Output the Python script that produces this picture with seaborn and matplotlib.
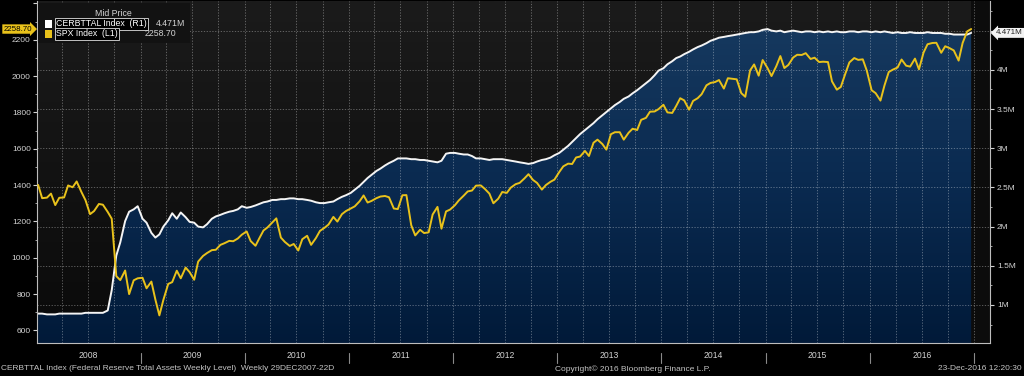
import numpy as np
import pandas as pd
import matplotlib
matplotlib.use("Agg")
import matplotlib.pyplot as plt
import matplotlib.dates as mdates
import matplotlib.ticker as mticker
from matplotlib.patches import PathPatch, Rectangle
from matplotlib.transforms import blended_transform_factory
from matplotlib.colors import LinearSegmentedColormap
import seaborn as sns

# ---------------- data (two readings per month: ~8th and ~22nd) ----------------
months = pd.date_range("2008-01-01", "2016-12-01", freq="MS")
dates = [m + pd.Timedelta(days=d) for m in months for d in (7, 21)]

spx_2008 = [1401, 1328, 1331, 1353, 1290, 1330, 1332, 1398, 1388, 1420, 1361, 1317,
            1240, 1257, 1296, 1292, 1252, 1215, 899, 877, 930, 800, 876, 887]
spx_2009 = [890, 832, 869, 770, 683, 768, 856, 866, 929, 887, 946, 921,
            879, 979, 1010, 1026, 1042, 1044, 1071, 1080, 1093, 1091, 1106, 1127]
spx_2010 = [1145, 1092, 1066, 1109, 1150, 1167, 1194, 1217, 1111, 1087, 1065, 1076,
            1040, 1102, 1121, 1071, 1109, 1148, 1165, 1183, 1225, 1199, 1240, 1257]
spx_2011 = [1271, 1283, 1311, 1343, 1304, 1313, 1328, 1337, 1340, 1333, 1271, 1268,
            1344, 1345, 1179, 1123, 1154, 1136, 1140, 1238, 1280, 1160, 1255, 1265]
spx_2012 = [1289, 1316, 1342, 1365, 1370, 1397, 1398, 1379, 1353, 1300, 1325, 1362,
            1357, 1386, 1405, 1412, 1437, 1460, 1428, 1412, 1375, 1400, 1418, 1430]
spx_2013 = [1472, 1503, 1518, 1516, 1552, 1557, 1588, 1560, 1633, 1650, 1626, 1595,
            1680, 1691, 1691, 1650, 1688, 1710, 1703, 1759, 1770, 1804, 1805, 1818]
spx_2014 = [1842, 1800, 1797, 1836, 1878, 1866, 1815, 1863, 1878, 1900, 1949, 1962,
            1967, 1978, 1931, 1988, 1985, 1982, 1906, 1886, 2031, 2064, 2002, 2088]
spx_2015 = [2044, 2000, 2055, 2110, 2044, 2061, 2102, 2117, 2116, 2126, 2094, 2101,
            2077, 2079, 2077, 1971, 1925, 1940, 2014, 2075, 2099, 2089, 2092, 2030]
spx_2016 = [1922, 1906, 1865, 1948, 2022, 2035, 2047, 2091, 2057, 2052, 2096, 2037,
            2129, 2175, 2182, 2183, 2128, 2164, 2153, 2141, 2085, 2182, 2246, 2258.70]

fed_2008 = [0.89, 0.89, 0.88, 0.88, 0.88, 0.89, 0.89, 0.89, 0.89, 0.89, 0.89, 0.90,
            0.90, 0.90, 0.90, 0.90, 0.93, 1.19, 1.63, 1.80, 2.07, 2.19, 2.22, 2.26]
fed_2009 = [2.10, 2.05, 1.92, 1.86, 1.90, 2.00, 2.08, 2.17, 2.10, 2.18, 2.12, 2.06,
            2.05, 2.00, 1.99, 2.03, 2.10, 2.13, 2.15, 2.17, 2.19, 2.20, 2.22, 2.26]
fed_2010 = [2.24, 2.25, 2.27, 2.29, 2.31, 2.32, 2.34, 2.34, 2.35, 2.35, 2.36, 2.36,
            2.35, 2.35, 2.34, 2.33, 2.31, 2.30, 2.30, 2.31, 2.32, 2.35, 2.38, 2.40]
fed_2011 = [2.43, 2.47, 2.52, 2.57, 2.62, 2.66, 2.71, 2.74, 2.78, 2.81, 2.84, 2.87,
            2.87, 2.87, 2.86, 2.86, 2.85, 2.85, 2.84, 2.83, 2.82, 2.84, 2.93, 2.94]
fed_2012 = [2.94, 2.93, 2.92, 2.92, 2.90, 2.87, 2.87, 2.86, 2.85, 2.86, 2.86, 2.86,
            2.85, 2.84, 2.83, 2.82, 2.81, 2.80, 2.81, 2.83, 2.85, 2.86, 2.88, 2.91]
fed_2013 = [2.94, 2.98, 3.03, 3.08, 3.13, 3.18, 3.23, 3.27, 3.32, 3.37, 3.42, 3.46,
            3.51, 3.55, 3.59, 3.63, 3.66, 3.70, 3.74, 3.78, 3.83, 3.87, 3.93, 3.99]
fed_2014 = [4.02, 4.07, 4.11, 4.15, 4.17, 4.20, 4.23, 4.26, 4.29, 4.31, 4.34, 4.37,
            4.39, 4.41, 4.42, 4.43, 4.44, 4.45, 4.46, 4.47, 4.48, 4.48, 4.49, 4.51]
fed_2015 = [4.52, 4.50, 4.49, 4.50, 4.48, 4.49, 4.50, 4.49, 4.48, 4.49, 4.49, 4.48,
            4.49, 4.48, 4.49, 4.48, 4.49, 4.48, 4.48, 4.49, 4.49, 4.48, 4.49, 4.49]
fed_2016 = [4.48, 4.49, 4.48, 4.49, 4.48, 4.47, 4.48, 4.47, 4.47, 4.48, 4.47, 4.47,
            4.47, 4.48, 4.47, 4.47, 4.47, 4.46, 4.46, 4.45, 4.45, 4.45, 4.45, 4.471]

spx = spx_2008 + spx_2009 + spx_2010 + spx_2011 + spx_2012 + spx_2013 + spx_2014 + spx_2015 + spx_2016
fed = fed_2008 + fed_2009 + fed_2010 + fed_2011 + fed_2012 + fed_2013 + fed_2014 + fed_2015 + fed_2016

years = list(range(2008, 2017))
left_ticks = [600, 800, 1000, 1200, 1400, 1600, 1800, 2000, 2200, 2400]
right_ticks = [1.0, 1.5, 2.0, 2.5, 3.0, 3.5, 4.0, 4.5]

legend_title = "Mid Price"
fed_name = "CERBTTAL Index  (R1)"
spx_name = "SPX Index  (L1)"
fed_last = "4.471M"
spx_last = "2258.70"
footer_left = "CERBTTAL Index (Federal Reserve Total Assets Weekly Level)  Weekly 29DEC2007-22D"
footer_mid = "Copyright\u00a9 2016 Bloomberg Finance L.P."
footer_right = "23-Dec-2016 12:20:30"

df = pd.DataFrame({"date": dates, "spx": spx, "fed": fed})

# ---------------- style ----------------
sns.set_style("dark")
plt.rcParams["font.family"] = ["Liberation Sans", "DejaVu Sans"]
TXT = "#d2d2d2"
YEL = "#e9c21b"
FS = 6.0

W, H = 1024, 376
fig = plt.figure(figsize=(W / 100, H / 100), dpi=100, facecolor="black")

def fx(px):
    return px / W

def fy(py):
    return 1 - py / H

rect = [fx(37), fy(343), fx(990) - fx(37), fy(1) - fy(343)]

# background gradient axes
bg = fig.add_axes(rect, zorder=0)
bg_cmap = LinearSegmentedColormap.from_list("bg", ["#0a0a0a", "#1b1b1b"])
bg.imshow(np.linspace(0, 1, 256).reshape(-1, 1), cmap=bg_cmap, aspect="auto",
          origin="lower", extent=[0, 1, 0, 1])
bg.set_axis_off()

ax = fig.add_axes(rect, zorder=2)
ax2 = ax.twinx()
ax2.set_zorder(1)
ax.patch.set_visible(False)
ax2.patch.set_visible(False)

xmin = pd.Timestamp("2008-01-04")
xmax = pd.Timestamp("2017-02-26")

# Fed fill with gradient
xnum = mdates.date2num(df["date"])
coll = ax2.fill_between(xnum, df["fed"], 0.0, linewidth=0)
path = coll.get_paths()[0]
coll.remove()
clip = PathPatch(path, transform=ax2.transData, facecolor="none", edgecolor="none")
ax2.add_patch(clip)
fill_cmap = LinearSegmentedColormap.from_list("fill", ["#011a39", "#0a2a50", "#16395f"])
im = ax2.imshow(np.linspace(0, 1, 256).reshape(-1, 1), cmap=fill_cmap, aspect="auto",
                origin="lower", extent=[xnum[0], xnum[-1], 0.5, 4.6], zorder=0.3)
im.set_clip_path(clip)

# area after last data point
ax2.axvspan(mdates.date2num(df["date"].iloc[-1]), mdates.date2num(xmax),
            color="#0c0c0c", zorder=0.2, linewidth=0)

sns.lineplot(data=df, x="date", y="fed", ax=ax2, color="#f4f4f4", linewidth=1.4,
             legend=False, zorder=3)
sns.lineplot(data=df, x="date", y="spx", ax=ax, color=YEL, linewidth=1.4,
             legend=False, zorder=3)

ax.set_xlim(xmin, xmax)
ax.set_ylim(531, 2413)
ax2.set_ylim(0.515, 4.878)
ax.set_xlabel("")
ax.set_ylabel("")
ax2.set_ylabel("")

# axes / ticks
for a in (ax, ax2):
    for s in a.spines.values():
        s.set_visible(False)
ax.spines["left"].set_visible(True)
ax.spines["bottom"].set_visible(True)
ax2.spines["right"].set_visible(True)
for s in (ax.spines["left"], ax.spines["bottom"], ax2.spines["right"]):
    s.set_color("#bdbdbd")
    s.set_linewidth(0.8)

ax.yaxis.set_major_locator(mticker.FixedLocator(left_ticks))
ax.yaxis.set_major_formatter(mticker.FuncFormatter(lambda v, p: "" if v > 2300 else f"{v:.0f}"))
ax.yaxis.set_minor_locator(mticker.MultipleLocator(100))
ax.tick_params(axis="y", which="major", colors=TXT, labelsize=FS, length=3, width=0.8,
               direction="out", pad=1.5)
ax.tick_params(axis="y", which="minor", colors="#bdbdbd", length=1.5, width=0.6,
               direction="out")

ax2.yaxis.set_major_locator(mticker.FixedLocator(right_ticks))
ax2.yaxis.set_major_formatter(mticker.FuncFormatter(lambda v, p: "" if v > 4.4 else f"{v:g}M"))
ax2.yaxis.set_minor_locator(mticker.MultipleLocator(0.25))
ax2.tick_params(axis="y", which="major", colors=TXT, labelsize=FS, length=3, width=0.8,
                direction="out", pad=2)
ax2.tick_params(axis="y", which="minor", colors="#bdbdbd", length=1.5, width=0.6,
                direction="out")

ax.xaxis.set_major_locator(mdates.MonthLocator(bymonth=[1, 4, 7, 10]))
ax.xaxis.set_minor_locator(mdates.MonthLocator())
ax.xaxis.set_major_formatter(mticker.NullFormatter())
ax.tick_params(axis="x", which="both", colors="#bdbdbd", length=2, width=0.6,
               direction="out")

# grids
GRID = dict(color="white", alpha=0.32, linestyle=(0, (1.3, 1.6)), linewidth=0.7)
ax.grid(axis="x", which="major", **GRID)
ax.grid(axis="y", visible=False)
ax2.set_axisbelow("line")
ax2.grid(axis="y", which="major", **GRID)

# year labels and separators
bt = blended_transform_factory(ax.transData, ax.transAxes)
for y in years:
    mid = mdates.date2num(pd.Timestamp(f"{y}-07-02"))
    ax.text(mid, -0.036, str(y), transform=bt, ha="center", va="center",
            fontsize=FS + 0.2, color=TXT)
for y in years[1:] + [2017]:
    xs = mdates.date2num(pd.Timestamp(f"{y}-01-01"))
    ax.plot([xs, xs], [-0.029, -0.058], transform=bt, color="#8a8a8a",
            linewidth=0.8, clip_on=False)

# value tags
ax.text(-5 / 953, 2258.7, spx_last, transform=blended_transform_factory(ax.transAxes, ax.transData),
        ha="right", va="center", fontsize=5.7, color="black",
        bbox=dict(boxstyle="rarrow,pad=0.15", fc=YEL, ec="none"))
ax2.text(1 + 6 / 953, 4.471, fed_last,
         transform=blended_transform_factory(ax2.transAxes, ax2.transData),
         ha="left", va="center", fontsize=5.8, color="#222222",
         bbox=dict(boxstyle="larrow,pad=0.18", fc="#f2f2f2", ec="none"))

# legend block
fig.patches.append(Rectangle((fx(38), fy(43)), fx(190) - fx(38), fy(3) - fy(43),
                             transform=fig.transFigure, facecolor="#121212",
                             edgecolor="none", zorder=5))
fig.text(fx(113), fy(14), legend_title, ha="center", va="center", fontsize=FS + 0.3,
         color=TXT, zorder=6)
fig.patches.append(Rectangle((fx(45), fy(28)), fx(7), 8 / H, transform=fig.transFigure,
                             facecolor="white", edgecolor="none", zorder=6))
fig.patches.append(Rectangle((fx(45), fy(38)), fx(7), 8 / H, transform=fig.transFigure,
                             facecolor=YEL, edgecolor="none", zorder=6))
fig.text(fx(56), fy(24), fed_name, ha="left", va="center", fontsize=FS + 0.3, color="white",
         zorder=6, bbox=dict(boxstyle="square,pad=0.12", fc="black", ec="#e0e0e0", lw=0.6))
fig.text(fx(56), fy(34), spx_name, ha="left", va="center", fontsize=FS + 0.3, color="white",
         zorder=6, bbox=dict(boxstyle="square,pad=0.12", fc="black", ec="#e0e0e0", lw=0.6))
fig.text(fx(185), fy(24), fed_last, ha="right", va="center", fontsize=FS + 0.3, color=TXT,
         zorder=6)
fig.text(fx(176), fy(34), spx_last, ha="right", va="center", fontsize=FS + 0.3, color=TXT,
         zorder=6)

# footer
fig.text(fx(1), fy(369), footer_left, ha="left", va="center", fontsize=FS, color="#c4c4c4")
fig.text(fx(555), fy(369), footer_mid, ha="left", va="center", fontsize=FS, color="#c4c4c4")
fig.text(fx(1022), fy(369), footer_right, ha="right", va="center", fontsize=FS, color="#c4c4c4")

fig.savefig("out.png", dpi=100, facecolor="black")
